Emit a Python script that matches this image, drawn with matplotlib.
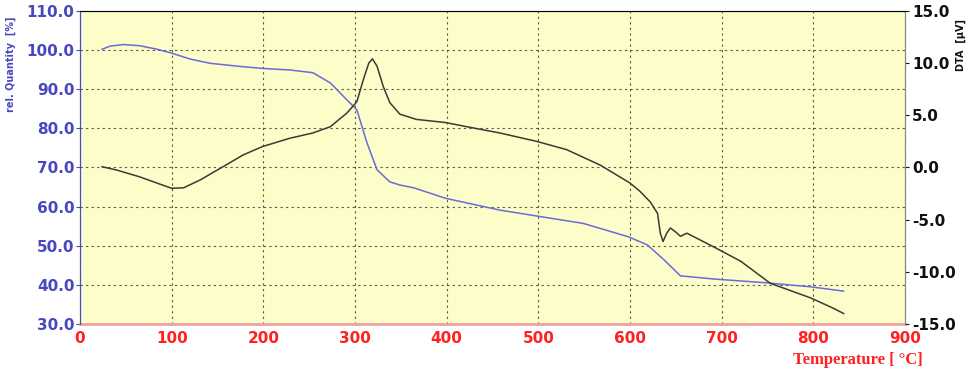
import numpy as np
import matplotlib.pyplot as plt

# TG curve (rel. quantity, left axis)
tg_temp = [24, 33, 47, 65, 84, 100, 120, 142, 175, 199, 229, 254, 273, 291, 302, 313, 324,
           338, 349, 364, 399, 458, 498, 549, 598, 619, 637, 655, 691, 750, 797, 833]
tg_val = [100.2, 101.0, 101.4, 101.1, 100.2, 99.2, 97.7, 96.6, 95.8, 95.3, 94.9, 94.2, 91.6,
          87.3, 84.7, 76.3, 69.4, 66.3, 65.5, 64.8, 62.1, 59.1, 57.6, 55.7, 52.3, 50.2, 46.4,
          42.3, 41.5, 40.5, 39.5, 38.4]

# DTA curve (right axis)
dta_temp = [24, 40, 65, 84, 100, 113, 131, 156, 178, 199, 229, 254, 273, 291, 302, 309,
            315, 319, 324, 331, 338, 349, 367, 399, 422, 458, 498, 531, 568, 600, 611, 622,
            630, 633, 636, 640, 644, 650, 655, 662, 691, 721, 753, 797, 822, 833]
dta_val = [0.07, -0.25, -0.9, -1.5, -2.0, -1.95, -1.2, 0.07, 1.2, 2.0, 2.8, 3.3, 3.9, 5.2,
           6.3, 8.4, 10.0, 10.4, 9.7, 7.7, 6.2, 5.1, 4.6, 4.3, 3.9, 3.3, 2.5, 1.7, 0.2, -1.5,
           -2.3, -3.3, -4.4, -6.3, -7.1, -6.3, -5.8, -6.2, -6.6, -6.3, -7.6, -9.0, -11.1,
           -12.5, -13.5, -14.0]

x_ticks = list(range(0, 1000, 100))
left_ticks = list(range(30, 120, 10))
right_ticks = list(range(-15, 20, 5))

blue = '#4848c0'
red = '#ff2020'

fig = plt.figure(figsize=(9.69, 3.75), dpi=100)
ax = fig.add_axes([0.0826, 0.136, 0.8514, 0.835])
ax.set_facecolor('#fdfdc9')
ax.plot(tg_temp, tg_val, color='#6a6ad8', lw=1.1)
ax.set_xlim(0, 900)
ax.set_ylim(30, 110)
ax.set_xticks(x_ticks)
ax.set_yticks(left_ticks)
ax.set_yticklabels(['%.1f' % v for v in left_ticks])
ax.grid(True, color='#555555', linestyle=(0, (2, 3)), linewidth=0.8)
ax.tick_params(axis='y', colors=blue, labelsize=11, length=3, pad=1)
ax.tick_params(axis='x', colors=red, labelsize=11, length=0, pad=5)
for lab in ax.get_yticklabels():
    lab.set_fontweight('bold')
for lab in ax.get_xticklabels():
    lab.set_fontweight('bold')
    lab.set_family(['Liberation Sans Narrow', 'DejaVu Sans'])
ax.spines['left'].set_color(blue)
ax.spines['bottom'].set_color('#f0a0a0')
ax.spines['bottom'].set_linewidth(2)
ax.spines['top'].set_color('#888888')
ax.spines['right'].set_color('#888888')
ax.set_ylabel('rel. Quantity  [%]', color=blue, fontsize=7, fontweight='bold')
ax.yaxis.set_label_coords(-0.078, 0.83)

ax2 = ax.twinx()
ax2.plot(dta_temp, dta_val, color='#3a3a34', lw=1.1)
ax2.set_ylim(-15, 15)
ax2.set_yticks(right_ticks)
ax2.set_yticklabels(['%.1f' % v for v in right_ticks])
ax2.tick_params(axis='y', colors='#111111', labelsize=11, length=3, pad=2)
for lab in ax2.get_yticklabels():
    lab.set_fontweight('bold')
ax2.spines['right'].set_color('#888888')
ax2.spines['left'].set_color(blue)
ax2.spines['bottom'].set_visible(False)
ax2.set_ylabel('DTA  [µV]', color='#111111', fontsize=7, fontweight='bold')
ax2.yaxis.set_label_coords(1.062, 0.89)

fig.text(0.885, 0.04, 'Temperature [ °C]', color=red, fontsize=12, fontweight='bold',
         family='Liberation Serif', ha='center', va='center')

plt.savefig('out.png', dpi=100)
